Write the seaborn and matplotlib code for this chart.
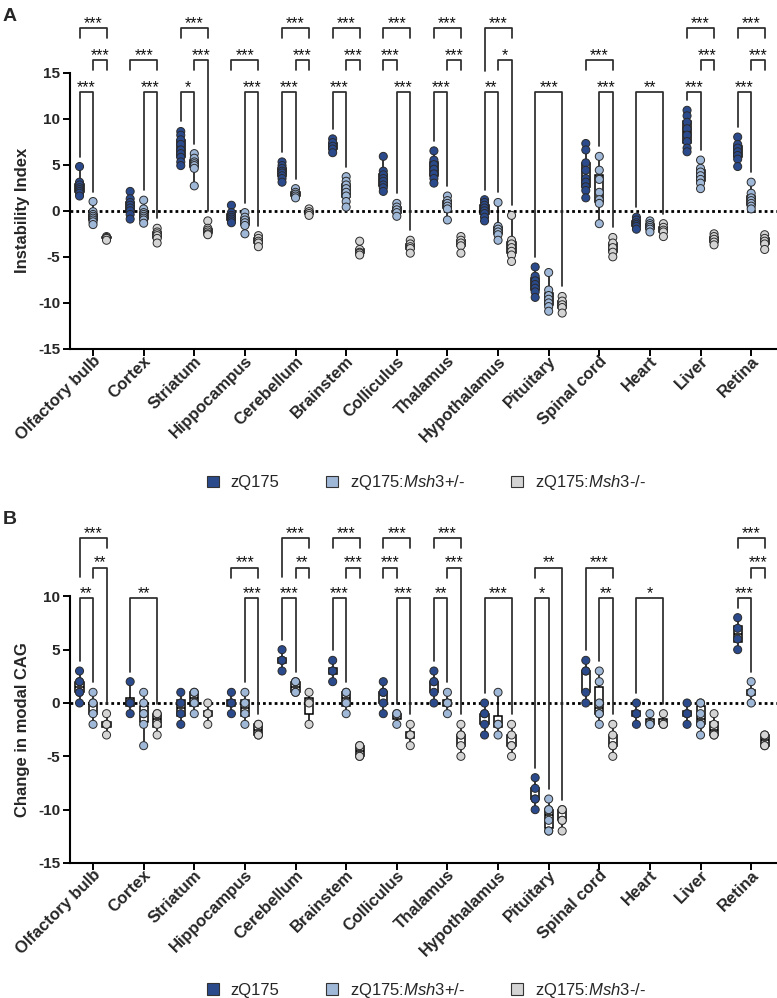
import numpy as np
import pandas as pd
import matplotlib
matplotlib.use("Agg")
import matplotlib.pyplot as plt
import matplotlib.transforms as mtransforms
from matplotlib.patches import Patch
import seaborn as sns

# ==========================================================
# Data
# ==========================================================

TISSUES = ["Olfactory bulb", "Cortex", "Striatum", "Hippocampus", "Cerebellum",
           "Brainstem", "Colliculus", "Thalamus", "Hypothalamus", "Pituitary",
           "Spinal cord", "Heart", "Liver", "Retina"]
GENOTYPES = ["zQ175", "zQ175:Msh3+/-", "zQ175:Msh3-/-"]
LEGEND_LABELS = ["zQ175", r"zQ175:$\mathit{Msh3}$+/-", r"zQ175:$\mathit{Msh3}$-/-"]
COLORS = ["#2b4a8c", "#a0b8d8", "#d4d4d4"]

# panel A : instability index
A_ZQ175 = [
    [4.8, 3.1, 2.8, 2.5, 2.3, 2.1, 1.9, 1.6],
    [2.1, 1.3, 0.9, 0.6, 0.3, 0.0, -0.4, -0.9],
    [8.6, 8.2, 7.7, 7.2, 6.6, 6.2, 5.8, 5.3, 4.9],
    [0.6, -0.2, -0.5, -0.7, -0.9, -1.1, -1.3],
    [5.3, 4.9, 4.6, 4.3, 4.1, 3.8, 3.5, 3.1],
    [7.8, 7.4, 7.0, 6.7, 6.3],
    [5.9, 4.3, 3.9, 3.5, 3.2, 2.8, 2.5, 2.1],
    [6.5, 5.5, 5.0, 4.5, 4.0, 3.5, 3.0],
    [1.2, 0.9, 0.6, 0.3, 0.0, -0.3, -0.7, -1.1],
    [-6.1, -7.1, -7.6, -8.0, -8.4, -8.8, -9.4],
    [7.3, 6.6, 5.2, 4.4, 3.5, 3.1, 2.6, 2.2, 1.4],
    [-0.7, -1.0, -1.3, -1.5, -1.7, -2.0],
    [10.9, 10.3, 9.6, 8.9, 8.2, 7.5, 6.8, 6.4],
    [8.0, 7.2, 6.8, 6.4, 6.0, 5.6, 4.8],
]
A_HET = [
    [1.0, -0.1, -0.4, -0.6, -0.8, -1.0, -1.2, -1.5],
    [1.15, 0.2, -0.2, -0.4, -0.6, -0.8, -1.0, -1.35],
    [6.2, 5.7, 5.3, 5.1, 4.9, 4.6, 2.7],
    [-0.2, -0.7, -1.0, -1.3, -1.6, -2.5],
    [2.4, 2.0, 1.8, 1.6, 1.4],
    [3.7, 3.2, 2.8, 2.4, 2.0, 1.6, 1.0, 0.4],
    [0.8, 0.4, 0.1, -0.2, -0.6],
    [1.6, 1.1, 0.8, 0.5, 0.2, -1.0],
    [0.9, -1.7, -2.0, -2.3, -2.6, -3.2],
    [-6.7, -8.6, -9.2, -9.6, -10.0, -10.4, -10.9],
    [5.9, 4.4, 3.4, 2.0, 1.2, 0.8, -1.4],
    [-1.1, -1.4, -1.6, -1.8, -2.0, -2.3],
    [5.5, 4.6, 4.2, 3.8, 3.4, 3.0, 2.4],
    [3.1, 1.9, 1.4, 1.1, 0.8, 0.5, 0.2],
]
A_KO = [
    [-2.8, -2.9, -3.0, -3.0, -3.2],
    [-1.9, -2.3, -2.5, -2.7, -3.0, -3.5],
    [-1.1, -1.9, -2.1, -2.3, -2.5, -2.6],
    [-2.7, -3.0, -3.3, -3.5, -3.9],
    [0.2, -0.1, -0.3, -0.5],
    [-3.3, -4.2, -4.5, -4.6, -4.8],
    [-3.2, -3.6, -3.9, -4.1, -4.6],
    [-2.8, -3.2, -3.5, -3.8, -4.6],
    [-0.5, -3.2, -3.6, -4.0, -4.4, -4.8, -5.5],
    [-9.3, -9.8, -10.2, -10.5, -11.1],
    [-2.9, -3.5, -4.0, -4.5, -5.0],
    [-1.4, -1.8, -2.1, -2.3, -2.8],
    [-2.5, -2.8, -3.1, -3.4, -3.7],
    [-2.6, -3.0, -3.3, -3.6, -4.2],
]

# panel B : change in modal CAG
B_ZQ175 = [
    [3, 2, 2, 1, 1, 0], [2, 0, 0, -1], [1, 0, -1, -2], [1, 0, 0, -1],
    [5, 4, 4, 3], [4, 3, 3, 2], [2, 1, 1, 0, -1], [3, 2, 2, 1, 0],
    [0, -1, -1, -2, -3], [-7, -8, -9, -9, -10], [4, 3, 3, 1, 0],
    [0, -1, -1, -2], [0, -1, -1, -2], [8, 7, 6, 5],
]
B_HET = [
    [1, 0, 0, -1, -2], [1, 0, -1, -1, -2, -4], [1, 1, 0, -1], [1, 0, -1, -2],
    [2, 2, 1, 1], [1, 1, 0, -1], [-1, -1, -2], [1, 0, 0, -1],
    [1, -2, -2, -3], [-9, -10, -10, -11, -12, -12], [3, 2, 0, -1, -1, -2],
    [-1, -2, -2], [0, 0, -1, -2, -2, -3], [2, 1, 1, 0],
]
B_KO = [
    [-1, -2, -2, -3], [-1, -1, -2, -3], [0, -1, -1, -2], [-2, -2, -3, -3],
    [1, 0, -2], [-4, -4, -5, -5], [-2, -3, -3, -4], [-2, -3, -3, -4, -5],
    [-2, -3, -4, -4, -5], [-10, -10, -11, -11, -12], [-2, -3, -4, -4, -5],
    [-1, -2, -2], [-1, -2, -3, -3], [-3, -3, -4, -4],
]

# significance: (tissue, group1, group2, level, label, left leg, right leg)
# leg: d = down to the data, s = short, m = down to just above level 1
A_SIG = [
    (0, 0, 1, 1, "***", "d", "d"), (0, 1, 2, 2, "***", "s", "s"), (0, 0, 2, 3, "***", "s", "s"),
    (1, 1, 2, 1, "***", "d", "d"), (1, 0, 2, 2, "***", "s", "s"),
    (2, 0, 1, 1, "*", "d", "d"), (2, 1, 2, 2, "***", "s", "d"), (2, 0, 2, 3, "***", "s", "s"),
    (3, 1, 2, 1, "***", "d", "d"), (3, 0, 2, 2, "***", "s", "s"),
    (4, 0, 1, 1, "***", "d", "d"), (4, 1, 2, 2, "***", "s", "s"), (4, 0, 2, 3, "***", "s", "s"),
    (5, 0, 1, 1, "***", "d", "d"), (5, 1, 2, 2, "***", "s", "s"), (5, 0, 2, 3, "***", "s", "s"),
    (6, 1, 2, 1, "***", "d", "d"), (6, 0, 1, 2, "***", "s", "s"), (6, 0, 2, 3, "***", "s", "s"),
    (7, 0, 1, 1, "***", "d", "d"), (7, 1, 2, 2, "***", "s", "s"), (7, 0, 2, 3, "***", "s", "s"),
    (8, 0, 1, 1, "**", "d", "d"), (8, 1, 2, 2, "*", "s", "d"), (8, 0, 2, 3, "***", "m", "s"),
    (9, 0, 2, 1, "***", "d", "d"),
    (10, 1, 2, 1, "***", "d", "d"), (10, 0, 2, 2, "***", "s", "s"),
    (11, 0, 2, 1, "**", "d", "d"),
    (12, 0, 1, 1, "***", "d", "d"), (12, 1, 2, 2, "***", "s", "s"), (12, 0, 2, 3, "***", "s", "s"),
    (13, 0, 1, 1, "***", "d", "d"), (13, 1, 2, 2, "***", "s", "s"), (13, 0, 2, 3, "***", "s", "s"),
]
B_SIG = [
    (0, 0, 1, 1, "**", "d", "d"), (0, 1, 2, 2, "**", "s", "d"), (0, 0, 2, 3, "***", "m", "s"),
    (1, 0, 2, 1, "**", "d", "d"),
    (3, 1, 2, 1, "***", "d", "d"), (3, 0, 2, 2, "***", "s", "s"),
    (4, 0, 1, 1, "***", "d", "d"), (4, 1, 2, 2, "**", "s", "s"), (4, 0, 2, 3, "***", "m", "s"),
    (5, 0, 1, 1, "***", "d", "d"), (5, 1, 2, 2, "***", "s", "s"), (5, 0, 2, 3, "***", "s", "s"),
    (6, 1, 2, 1, "***", "d", "d"), (6, 0, 1, 2, "***", "s", "s"), (6, 0, 2, 3, "***", "s", "s"),
    (7, 0, 1, 1, "**", "d", "d"), (7, 1, 2, 2, "***", "s", "d"), (7, 0, 2, 3, "***", "s", "s"),
    (8, 0, 2, 1, "***", "d", "d"),
    (9, 0, 1, 1, "*", "d", "d"), (9, 0, 2, 2, "**", "s", "d"),
    (10, 1, 2, 1, "**", "d", "d"), (10, 0, 2, 2, "***", "d", "s"),
    (11, 0, 2, 1, "*", "d", "d"),
    (13, 0, 1, 1, "***", "d", "d"), (13, 1, 2, 2, "***", "s", "s"), (13, 0, 2, 3, "***", "s", "s"),
]

A_LEVELS = [12.9, 16.35, 19.8]
B_LEVELS = [9.85, 12.7, 15.5]

DODGE = 0.8 / 3
FIG_W, FIG_H = 777, 998


def build_frame(zq, het, ko):
    rows = []
    for t, a, b, c in zip(TISSUES, zq, het, ko):
        for g, vals in zip(GENOTYPES, (a, b, c)):
            for v in vals:
                rows.append((t, g, v))
    return pd.DataFrame(rows, columns=["tissue", "genotype", "value"])


def draw_brackets(ax, df, sig, levels):
    y0, y1 = ax.get_ylim()
    ppu = ax.get_position().height * FIG_H / (y1 - y0)
    short, gap, mid = 10 / ppu, 10 / ppu, 21 / ppu
    tops = df.groupby(["tissue", "genotype"])["value"].max()
    for t, i, j, lev, txt, legl, legr in sig:
        yb = levels[lev - 1]
        xs = [t + (i - 1) * DODGE, t + (j - 1) * DODGE]
        bottoms = []
        for g, leg in zip((i, j), (legl, legr)):
            if leg == "s":
                bottoms.append(yb - short)
            elif leg == "m":
                bottoms.append(levels[0] + mid)
            else:
                bottoms.append(tops[(TISSUES[t], GENOTYPES[g])] + gap)
        ax.plot([xs[0], xs[0], xs[1], xs[1]], [bottoms[0], yb, yb, bottoms[1]],
                color="#2b2b2b", lw=1.25, clip_on=False, zorder=4)
        ax.annotate(txt, xy=(np.mean(xs), yb), xytext=(0, 0.0), textcoords="offset points",
                    ha="center", va="baseline", fontsize=11.5, color="#111111")


def draw_panel(fig, ax, df, sig, levels, ylim, yticks, ylabel, letter):
    sns.boxplot(data=df, x="tissue", y="value", hue="genotype", order=TISSUES,
                hue_order=GENOTYPES, palette={g: "white" for g in GENOTYPES},
                linecolor="black", linewidth=1.1, width=0.8, gap=0.4, whis=(0, 100),
                showcaps=False, showfliers=False, legend=False, ax=ax)
    sns.stripplot(data=df, x="tissue", y="value", hue="genotype", order=TISSUES,
                  hue_order=GENOTYPES, palette=COLORS, dodge=True, jitter=False,
                  size=5.8, edgecolor="#2a2a2a", linewidth=0.7, legend=False,
                  ax=ax, zorder=3)
    ax.axhline(0, color="black", lw=2.0, ls=(0, (1, 1.1)), zorder=1)

    ax.set_xlim(-0.455, 13.51)
    ax.set_ylim(*ylim)
    ax.set_yticks(yticks)
    ax.spines["left"].set_bounds(yticks[0], yticks[-1])
    for s in ("top", "right"):
        ax.spines[s].set_visible(False)
    for s in ("left", "bottom"):
        ax.spines[s].set_linewidth(1.5)
        ax.spines[s].set_color("black")
    ax.tick_params(axis="both", width=1.4, length=5, color="black", labelsize=11, pad=2)
    ax.set_xticks(range(len(TISSUES)))
    ax.set_xticklabels(TISSUES, rotation=45, ha="right", va="center",
                       rotation_mode="anchor", fontsize=12, fontweight="bold")
    shift = mtransforms.ScaledTranslation(5 / 100, 0, fig.dpi_scale_trans)
    for lbl in ax.get_xticklabels():
        lbl.set_transform(lbl.get_transform() + shift)
    for lbl in ax.get_yticklabels():
        lbl.set_fontweight("bold")
    ax.set_xlabel("")
    ax.set_ylabel(ylabel, fontsize=12, fontweight="bold")
    ymid = (np.mean([yticks[0], yticks[-1]]) - ylim[0]) / (ylim[1] - ylim[0])
    ax.yaxis.set_label_coords(-0.056, ymid)
    ax.text(-0.095, 1.0, letter, transform=ax.transAxes, fontsize=14,
            fontweight="bold", va="top", ha="left")

    draw_brackets(ax, df, sig, levels)


def add_legend(fig, y):
    handles = [Patch(facecolor=c, edgecolor="#333333", lw=0.8) for c in COLORS]
    fig.legend(handles, LEGEND_LABELS, loc="center", bbox_to_anchor=(0.549, y), ncol=3,
               frameon=False, fontsize=12, handlelength=0.7, handleheight=0.7,
               handletextpad=0.7, columnspacing=2.8)


def main():
    sns.set_style("ticks")
    plt.rcParams["font.family"] = ["Liberation Sans", "DejaVu Sans"]
    plt.rcParams["mathtext.fontset"] = "custom"
    plt.rcParams["mathtext.rm"] = "Liberation Sans"
    plt.rcParams["mathtext.it"] = "Liberation Sans:italic"
    plt.rcParams["axes.unicode_minus"] = False

    fig = plt.figure(figsize=(FIG_W / 100, FIG_H / 100), dpi=100)
    ax_a = fig.add_axes([70 / FIG_W, 1 - 349 / FIG_H, 707 / FIG_W, 341 / FIG_H])
    ax_b = fig.add_axes([70 / FIG_W, 1 - 863 / FIG_H, 707 / FIG_W, 352 / FIG_H])

    df_a = build_frame(A_ZQ175, A_HET, A_KO)
    df_b = build_frame(B_ZQ175, B_HET, B_KO)

    draw_panel(fig, ax_a, df_a, A_SIG, A_LEVELS, (-15, 22), list(range(-15, 16, 5)),
               "Instability Index", "A")
    draw_panel(fig, ax_b, df_b, B_SIG, B_LEVELS, (-15, 18), list(range(-15, 11, 5)),
               "Change in modal CAG", "B")

    add_legend(fig, 1 - 483 / FIG_H)
    add_legend(fig, 1 - 990 / FIG_H)

    fig.savefig("out.png", dpi=100)


if __name__ == "__main__":
    main()
